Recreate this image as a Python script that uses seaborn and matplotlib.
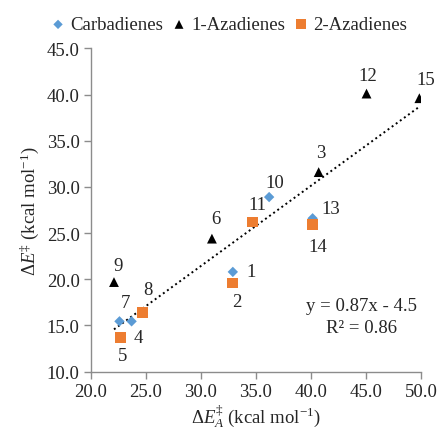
import numpy as np
import pandas as pd
import matplotlib
matplotlib.use("Agg")
import matplotlib.pyplot as plt
import seaborn as sns

# Data
carb_labels = ["1", "10", "13", "7", "4"]
carb_x = [32.9, 36.2, 40.15, 22.6, 23.7]
carb_y = [20.8, 28.9, 26.6, 15.45, 15.45]

aza1_labels = ["12", "15", "3", "6", "9"]
aza1_x = [45.05, 49.85, 40.7, 31.0, 22.1]
aza1_y = [40.1, 39.6, 31.6, 24.4, 19.7]

aza2_labels = ["11", "14", "2", "8", "5"]
aza2_x = [34.7, 40.1, 32.85, 24.7, 22.7]
aza2_y = [26.2, 25.9, 19.6, 16.4, 13.7]

series_names = ["Carbadienes", "1-Azadienes", "2-Azadienes"]
equation_text = "y = 0.87x - 4.5"
r2_text = "R² = 0.86"

x_ticks = [20.0, 25.0, 30.0, 35.0, 40.0, 45.0, 50.0]
y_ticks = [10.0, 15.0, 20.0, 25.0, 30.0, 35.0, 40.0, 45.0]

# label offsets in pixels (dx, dy)
offsets = {
    "1": (18, 0), "10": (6, 15), "13": (18, 10), "7": (6, 19), "4": (7, -16),
    "12": (1, 18), "15": (6, 19), "3": (2, 20), "6": (4, 20), "9": (4, 17),
    "11": (5, 18), "14": (6, -22), "2": (5, -19), "8": (5, 23), "5": (2, -18),
}

df = pd.DataFrame({
    "x": carb_x + aza1_x + aza2_x,
    "y": carb_y + aza1_y + aza2_y,
    "label": carb_labels + aza1_labels + aza2_labels,
    "series": [series_names[0]] * len(carb_x) + [series_names[1]] * len(aza1_x)
              + [series_names[2]] * len(aza2_x),
})

sns.set_style("white")
plt.rcParams["font.family"] = ["Liberation Serif", "DejaVu Serif"]
plt.rcParams["mathtext.fontset"] = "custom"
plt.rcParams["mathtext.rm"] = "Liberation Serif"
plt.rcParams["mathtext.it"] = "Liberation Serif:italic"
plt.rcParams["mathtext.bf"] = "Liberation Serif:bold"

FS = 13.5
TC = "#262626"

fig = plt.figure(figsize=(4.39, 4.31), dpi=100)
ax = fig.add_axes([0.207, 0.1353, 0.752, 0.7503])

palette = {series_names[0]: "#5B9BD5", series_names[1]: "#000000", series_names[2]: "#ED7D31"}
markers = {series_names[0]: "D", series_names[1]: "^", series_names[2]: "s"}
sizes = {series_names[0]: 28, series_names[1]: 50, series_names[2]: 62}

# trendline through all points
sns.regplot(data=df, x="x", y="y", scatter=False, ci=None, ax=ax,
            line_kws=dict(color="black", linestyle=(0, (1, 1.6)), linewidth=1.4))

for name in series_names:
    sub = df[df["series"] == name]
    sns.scatterplot(data=sub, x="x", y="y", marker=markers[name], color=palette[name],
                    s=sizes[name], edgecolor="none", ax=ax, label=name, zorder=3)

for _, r in df.iterrows():
    dx, dy = offsets[r["label"]]
    ax.annotate(r["label"], (r["x"], r["y"]), xytext=(dx, dy), textcoords="offset pixels",
                ha="center", va="center", fontsize=FS, color=TC)

ax.text(0.82, 0.205, equation_text, transform=ax.transAxes, ha="center", va="center",
        fontsize=FS, color=TC)
ax.text(0.82, 0.138, r2_text, transform=ax.transAxes, ha="center", va="center",
        fontsize=FS, color=TC)

ax.set_xlim(20, 50)
ax.set_ylim(10, 45)
ax.set_xticks(x_ticks)
ax.set_yticks(y_ticks)
ax.set_xticklabels([f"{v:.1f}" for v in x_ticks])
ax.set_yticklabels([f"{v:.1f}" for v in y_ticks])
ax.tick_params(axis="both", labelsize=FS, labelcolor=TC, length=5, width=1,
               color="#8c8c8c", direction="out", bottom=True, left=True, pad=3)
for s in ["top", "right"]:
    ax.spines[s].set_visible(False)
for s in ["left", "bottom"]:
    ax.spines[s].set_color("#8c8c8c")
    ax.spines[s].set_linewidth(1)

ax.set_xlabel("Δ$E^{‡}_{A}$ (kcal mol$^{−1}$)", fontsize=FS, color=TC, labelpad=2)
ax.set_ylabel("Δ$E^{‡}$ (kcal mol$^{−1}$)", fontsize=FS, color=TC, labelpad=4)

leg = ax.legend(loc="lower center", bbox_to_anchor=(0.415, 1.0), ncol=3, frameon=False,
                fontsize=FS, handlelength=1.0, handletextpad=0.15, columnspacing=0.35,
                borderaxespad=0.4, markerscale=0.9)
for t in leg.get_texts():
    t.set_color(TC)

fig.savefig("out.png", dpi=100)
